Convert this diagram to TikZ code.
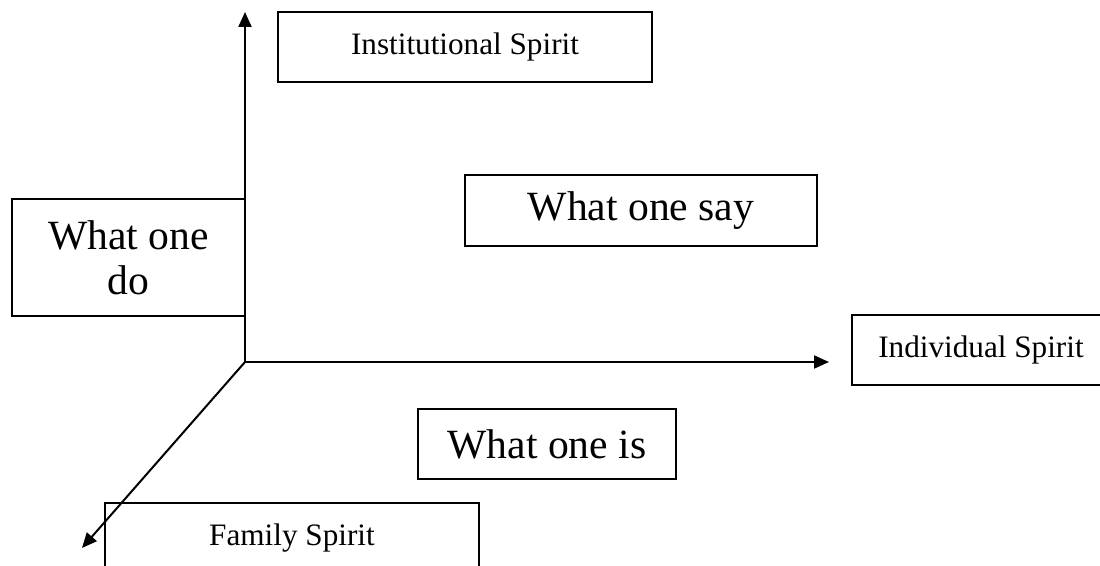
\documentclass[tikz,border=0pt]{standalone}
\usepackage{fontspec}
\setmainfont{Liberation Serif}
\usetikzlibrary{arrows.meta}

\begin{document}
\begin{tikzpicture}[
        x=0.5pt, y=-0.5pt,
        box/.style={draw, line width=1pt, inner sep=0pt, align=center},
        small/.style={box, font=\fontsize{15.6}{18}\selectfont},
        big/.style={box, font=\fontsize{20.8}{22.5}\selectfont},
        axis/.style={draw, line width=1pt, -{Triangle[length=7.5pt, width=6.5pt]}}
    ]
    \useasboundingbox (0,0) rectangle (1100,566);
    \clip (0,0) rectangle (1100,566);

    % Achsen
    \coordinate (origin) at (245,362);
    \coordinate (up) at (245,12);
    \coordinate (right) at (829,362);
    \coordinate (down) at (82,548);

    \draw[axis] (origin) -- (up);
    \draw[axis] (origin) -- (right);
    \draw[axis] (origin) -- (down);

    % Kaesten
    \node (institutional) [small, minimum width=187pt, minimum height=35pt] at (465,47) {Institutional Spirit};
    \node (say) [big, minimum width=176pt, minimum height=35.5pt] at (641,210.5) {What one say};
    \node (do) [big, minimum width=116.5pt, minimum height=58.5pt] at (128.5,257.5) {What one\\do};
    \node (individual) [small, minimum width=129pt, minimum height=35pt] at (981,350) {Individual Spirit};
    \node (is) [big, minimum width=129pt, minimum height=35pt] at (547,444) {What one is};
    \node (family) [small, minimum width=187pt, minimum height=35pt] at (292,538) {Family Spirit};

\end{tikzpicture}
\end{document}
